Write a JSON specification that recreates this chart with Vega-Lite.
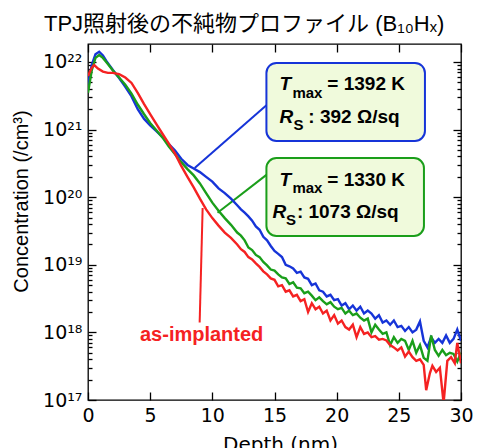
{
  "$schema": "https://vega.github.io/schema/vega-lite/v6.json",
  "width": 373,
  "height": 356,
  "autosize": {"type": "none"},
  "padding": {"left": 88, "top": 44, "right": 16, "bottom": 48},
  "background": "white",
  "title": {"text": "TPJ照射後の不純物プロファイル (B₁₀Hₓ)", "font": "Liberation Sans, Noto Sans CJK JP", "fontSize": 22, "fontWeight": "normal", "color": "black", "anchor": "start", "frame": "group", "dx": -44, "offset": 7},
  "config": {
    "view": {"stroke": "black", "strokeWidth": 1.3},
    "axis": {"domain": false, "grid": false, "tickColor": "black", "tickWidth": 1.3, "labelColor": "black", "titleColor": "black", "labelFont": "DejaVu Sans", "titleFont": "Liberation Sans", "labelFontSize": 19, "titleFontSize": 20, "titleFontWeight": "normal", "labelOverlap": false, "labelFlush": false}
  },
  "datasets": {
    "curves": [
      {"series":"1392 K","depth":0,"conc":4.6e21},{"series":"1392 K","depth":0.3,"conc":9.0e21},{"series":"1392 K","depth":0.6,"conc":1.3e22},{"series":"1392 K","depth":0.9,"conc":1.42e22},{"series":"1392 K","depth":1.2,"conc":1.25e22},{"series":"1392 K","depth":1.5,"conc":1.02e22},{"series":"1392 K","depth":2.0,"conc":7.6e21},{"series":"1392 K","depth":2.5,"conc":5.8e21},{"series":"1392 K","depth":3.0,"conc":4.3e21},{"series":"1392 K","depth":3.5,"conc":3.1e21},{"series":"1392 K","depth":4.0,"conc":2.0e21},{"series":"1392 K","depth":4.5,"conc":1.45e21},{"series":"1392 K","depth":5.0,"conc":1.15e21},{"series":"1392 K","depth":5.5,"conc":9.5e20},{"series":"1392 K","depth":6.0,"conc":7.7e20},{"series":"1392 K","depth":6.5,"conc":6.1e20},{"series":"1392 K","depth":7.0,"conc":4.9e20},{"series":"1392 K","depth":7.5,"conc":3.7e20},{"series":"1392 K","depth":8.0,"conc":3.0e20},{"series":"1392 K","depth":8.5,"conc":2.65e20},{"series":"1392 K","depth":9.0,"conc":2.35e20},{"series":"1392 K","depth":9.5,"conc":2.0e20},{"series":"1392 K","depth":10.0,"conc":1.7e20},{"series":"1392 K","depth":10.5,"conc":1.35e20},{"series":"1392 K","depth":11.0,"conc":1.15e20},{"series":"1392 K","depth":11.5,"conc":9.5e19},
      {"series":"1392 K","depth":12.0,"conc":7.6e19},{"series":"1392 K","depth":12.3,"conc":6.6e19},{"series":"1392 K","depth":12.6,"conc":5.9e19},{"series":"1392 K","depth":12.9,"conc":5.2e19},{"series":"1392 K","depth":13.2,"conc":4.5e19},{"series":"1392 K","depth":13.5,"conc":3.7e19},{"series":"1392 K","depth":13.8,"conc":3.3e19},{"series":"1392 K","depth":14.1,"conc":2.6e19},{"series":"1392 K","depth":14.4,"conc":2.3e19},{"series":"1392 K","depth":14.7,"conc":1.9e19},{"series":"1392 K","depth":15.0,"conc":1.6e19},{"series":"1392 K","depth":15.3,"conc":1.45e19},{"series":"1392 K","depth":15.6,"conc":1.3e19},{"series":"1392 K","depth":15.9,"conc":1.0e19},{"series":"1392 K","depth":16.2,"conc":9.5e18},{"series":"1392 K","depth":16.5,"conc":8.8e18},{"series":"1392 K","depth":16.8,"conc":7.6e18},{"series":"1392 K","depth":17.1,"conc":7.9e18},{"series":"1392 K","depth":17.4,"conc":6.5e18},{"series":"1392 K","depth":17.7,"conc":6.2e18},{"series":"1392 K","depth":18.0,"conc":5.0e18},{"series":"1392 K","depth":18.3,"conc":5.3e18},{"series":"1392 K","depth":18.6,"conc":4.2e18},{"series":"1392 K","depth":18.9,"conc":4.0e18},{"series":"1392 K","depth":19.2,"conc":3.4e18},{"series":"1392 K","depth":19.5,"conc":3.6e18},{"series":"1392 K","depth":19.8,"conc":3.0e18},{"series":"1392 K","depth":20.1,"conc":3.1e18},{"series":"1392 K","depth":20.4,"conc":2.5e18},{"series":"1392 K","depth":20.7,"conc":2.7e18},{"series":"1392 K","depth":21.0,"conc":2.2e18},{"series":"1392 K","depth":21.3,"conc":2.5e18},{"series":"1392 K","depth":21.6,"conc":2.1e18},{"series":"1392 K","depth":21.9,"conc":2.4e18},{"series":"1392 K","depth":22.2,"conc":1.9e18},{"series":"1392 K","depth":22.5,"conc":2.1e18},{"series":"1392 K","depth":22.8,"conc":1.9e18},{"series":"1392 K","depth":23.1,"conc":1.6e18},{"series":"1392 K","depth":23.4,"conc":1.8e18},{"series":"1392 K","depth":23.7,"conc":1.4e18},{"series":"1392 K","depth":24.0,"conc":1.5e18},{"series":"1392 K","depth":24.3,"conc":1.3e18},{"series":"1392 K","depth":24.6,"conc":1.5e18},{"series":"1392 K","depth":24.9,"conc":1.2e18},{"series":"1392 K","depth":25.2,"conc":1.25e18},{"series":"1392 K","depth":25.5,"conc":1.05e18},{"series":"1392 K","depth":25.8,"conc":1.2e18},{"series":"1392 K","depth":26.1,"conc":1.0e18},{"series":"1392 K","depth":26.4,"conc":1.1e18},{"series":"1392 K","depth":26.7,"conc":1.45e18},{"series":"1392 K","depth":27.0,"conc":7.5e17},{"series":"1392 K","depth":27.3,"conc":6.0e17},{"series":"1392 K","depth":27.6,"conc":8.5e17},{"series":"1392 K","depth":27.9,"conc":7.0e17},{"series":"1392 K","depth":28.2,"conc":8.0e17},{"series":"1392 K","depth":28.5,"conc":7.0e17},{"series":"1392 K","depth":28.8,"conc":9.0e17},{"series":"1392 K","depth":29.1,"conc":7.0e17},{"series":"1392 K","depth":29.4,"conc":8.0e17},{"series":"1392 K","depth":29.7,"conc":1.1e18},{"series":"1392 K","depth":30.0,"conc":7.5e17},
      {"series":"1330 K","depth":0,"conc":3.5e21},{"series":"1330 K","depth":0.3,"conc":7.5e21},{"series":"1330 K","depth":0.6,"conc":1.15e22},{"series":"1330 K","depth":0.9,"conc":1.27e22},{"series":"1330 K","depth":1.2,"conc":1.15e22},{"series":"1330 K","depth":1.5,"conc":9.8e21},{"series":"1330 K","depth":2.0,"conc":7.5e21},{"series":"1330 K","depth":2.5,"conc":5.9e21},{"series":"1330 K","depth":3.0,"conc":4.6e21},{"series":"1330 K","depth":3.5,"conc":3.4e21},{"series":"1330 K","depth":4.0,"conc":2.35e21},{"series":"1330 K","depth":4.5,"conc":1.7e21},{"series":"1330 K","depth":5.0,"conc":1.25e21},{"series":"1330 K","depth":5.5,"conc":9.8e20},{"series":"1330 K","depth":6.0,"conc":7.6e20},{"series":"1330 K","depth":6.5,"conc":5.6e20},{"series":"1330 K","depth":7.0,"conc":4.3e20},{"series":"1330 K","depth":7.5,"conc":3.3e20},{"series":"1330 K","depth":8.0,"conc":2.6e20},{"series":"1330 K","depth":8.5,"conc":2.1e20},{"series":"1330 K","depth":9.0,"conc":1.6e20},{"series":"1330 K","depth":9.5,"conc":1.15e20},{"series":"1330 K","depth":10.0,"conc":8.3e19},{"series":"1330 K","depth":10.5,"conc":6.3e19},{"series":"1330 K","depth":11.0,"conc":4.9e19},{"series":"1330 K","depth":11.5,"conc":3.9e19},
      {"series":"1330 K","depth":12.0,"conc":3.0e19},{"series":"1330 K","depth":12.3,"conc":2.7e19},{"series":"1330 K","depth":12.6,"conc":2.3e19},{"series":"1330 K","depth":12.9,"conc":1.8e19},{"series":"1330 K","depth":13.2,"conc":1.65e19},{"series":"1330 K","depth":13.5,"conc":1.4e19},{"series":"1330 K","depth":13.8,"conc":1.3e19},{"series":"1330 K","depth":14.1,"conc":1.1e19},{"series":"1330 K","depth":14.4,"conc":9.8e18},{"series":"1330 K","depth":14.7,"conc":8.5e18},{"series":"1330 K","depth":15.0,"conc":8.2e18},{"series":"1330 K","depth":15.3,"conc":7.2e18},{"series":"1330 K","depth":15.6,"conc":6.5e18},{"series":"1330 K","depth":15.9,"conc":6.3e18},{"series":"1330 K","depth":16.2,"conc":5.2e18},{"series":"1330 K","depth":16.5,"conc":5.5e18},{"series":"1330 K","depth":16.8,"conc":4.6e18},{"series":"1330 K","depth":17.1,"conc":4.5e18},{"series":"1330 K","depth":17.4,"conc":3.8e18},{"series":"1330 K","depth":17.7,"conc":4.0e18},{"series":"1330 K","depth":18.0,"conc":3.5e18},{"series":"1330 K","depth":18.3,"conc":3.0e18},{"series":"1330 K","depth":18.6,"conc":3.3e18},{"series":"1330 K","depth":18.9,"conc":2.9e18},{"series":"1330 K","depth":19.2,"conc":2.6e18},{"series":"1330 K","depth":19.5,"conc":2.8e18},{"series":"1330 K","depth":19.8,"conc":2.4e18},{"series":"1330 K","depth":20.1,"conc":2.2e18},{"series":"1330 K","depth":20.4,"conc":2.3e18},{"series":"1330 K","depth":20.7,"conc":1.9e18},{"series":"1330 K","depth":21.0,"conc":2.1e18},{"series":"1330 K","depth":21.3,"conc":1.8e18},{"series":"1330 K","depth":21.6,"conc":1.9e18},{"series":"1330 K","depth":21.9,"conc":1.65e18},{"series":"1330 K","depth":22.2,"conc":1.5e18},{"series":"1330 K","depth":22.5,"conc":1.6e18},{"series":"1330 K","depth":22.8,"conc":1.0e18},{"series":"1330 K","depth":23.1,"conc":1.3e18},{"series":"1330 K","depth":23.4,"conc":1.1e18},{"series":"1330 K","depth":23.7,"conc":9.5e17},{"series":"1330 K","depth":24.0,"conc":1.0e18},{"series":"1330 K","depth":24.3,"conc":6.5e17},{"series":"1330 K","depth":24.6,"conc":8.5e17},{"series":"1330 K","depth":24.9,"conc":7.0e17},{"series":"1330 K","depth":25.2,"conc":8.0e17},{"series":"1330 K","depth":25.5,"conc":7.5e17},{"series":"1330 K","depth":25.8,"conc":5.5e17},{"series":"1330 K","depth":26.1,"conc":7.5e17},{"series":"1330 K","depth":26.4,"conc":5.0e17},{"series":"1330 K","depth":26.7,"conc":6.5e17},{"series":"1330 K","depth":27.0,"conc":4.2e17},{"series":"1330 K","depth":27.3,"conc":3.8e17},{"series":"1330 K","depth":27.6,"conc":9.0e17},{"series":"1330 K","depth":27.9,"conc":5.5e17},{"series":"1330 K","depth":28.2,"conc":4.5e17},{"series":"1330 K","depth":28.5,"conc":5.5e17},{"series":"1330 K","depth":28.8,"conc":4.6e17},{"series":"1330 K","depth":29.1,"conc":5.0e17},{"series":"1330 K","depth":29.4,"conc":4.8e17},{"series":"1330 K","depth":29.7,"conc":3.7e17},{"series":"1330 K","depth":30.0,"conc":5.0e17},
      {"series":"as-implanted","depth":0,"conc":6.2e21},{"series":"as-implanted","depth":0.3,"conc":8.2e21},{"series":"as-implanted","depth":0.5,"conc":9.0e21},{"series":"as-implanted","depth":0.8,"conc":8.0e21},{"series":"as-implanted","depth":1.2,"conc":7.2e21},{"series":"as-implanted","depth":1.6,"conc":6.9e21},{"series":"as-implanted","depth":2.0,"conc":6.9e21},{"series":"as-implanted","depth":2.5,"conc":6.6e21},{"series":"as-implanted","depth":3.0,"conc":5.9e21},{"series":"as-implanted","depth":3.5,"conc":4.9e21},{"series":"as-implanted","depth":4.0,"conc":3.5e21},{"series":"as-implanted","depth":4.5,"conc":2.4e21},{"series":"as-implanted","depth":5.0,"conc":1.7e21},{"series":"as-implanted","depth":5.5,"conc":1.2e21},{"series":"as-implanted","depth":6.0,"conc":8.6e20},{"series":"as-implanted","depth":6.5,"conc":6.2e20},{"series":"as-implanted","depth":7.0,"conc":4.4e20},{"series":"as-implanted","depth":7.5,"conc":2.9e20},{"series":"as-implanted","depth":8.0,"conc":2.0e20},{"series":"as-implanted","depth":8.5,"conc":1.4e20},{"series":"as-implanted","depth":9.0,"conc":9.5e19},{"series":"as-implanted","depth":9.5,"conc":6.6e19},{"series":"as-implanted","depth":10.0,"conc":4.9e19},{"series":"as-implanted","depth":10.5,"conc":3.8e19},{"series":"as-implanted","depth":11.0,"conc":3.0e19},{"series":"as-implanted","depth":11.5,"conc":2.5e19},
      {"series":"as-implanted","depth":12.0,"conc":2.0e19},{"series":"as-implanted","depth":12.3,"conc":1.7e19},{"series":"as-implanted","depth":12.6,"conc":1.55e19},{"series":"as-implanted","depth":12.9,"conc":1.3e19},{"series":"as-implanted","depth":13.2,"conc":1.2e19},{"series":"as-implanted","depth":13.5,"conc":1.05e19},{"series":"as-implanted","depth":13.8,"conc":9.3e18},{"series":"as-implanted","depth":14.1,"conc":8.0e18},{"series":"as-implanted","depth":14.4,"conc":7.2e18},{"series":"as-implanted","depth":14.7,"conc":6.3e18},{"series":"as-implanted","depth":15.0,"conc":6.0e18},{"series":"as-implanted","depth":15.3,"conc":4.8e18},{"series":"as-implanted","depth":15.6,"conc":5.0e18},{"series":"as-implanted","depth":15.9,"conc":4.0e18},{"series":"as-implanted","depth":16.2,"conc":4.2e18},{"series":"as-implanted","depth":16.5,"conc":3.4e18},{"series":"as-implanted","depth":16.8,"conc":3.6e18},{"series":"as-implanted","depth":17.1,"conc":2.9e18},{"series":"as-implanted","depth":17.4,"conc":3.1e18},{"series":"as-implanted","depth":17.7,"conc":2.0e18},{"series":"as-implanted","depth":18.0,"conc":2.7e18},{"series":"as-implanted","depth":18.3,"conc":2.2e18},{"series":"as-implanted","depth":18.6,"conc":2.4e18},{"series":"as-implanted","depth":18.9,"conc":1.9e18},{"series":"as-implanted","depth":19.2,"conc":2.1e18},{"series":"as-implanted","depth":19.5,"conc":1.5e18},{"series":"as-implanted","depth":19.8,"conc":1.8e18},{"series":"as-implanted","depth":20.1,"conc":1.35e18},{"series":"as-implanted","depth":20.4,"conc":1.5e18},{"series":"as-implanted","depth":20.7,"conc":1.2e18},{"series":"as-implanted","depth":21.0,"conc":1.1e18},{"series":"as-implanted","depth":21.3,"conc":1.3e18},{"series":"as-implanted","depth":21.6,"conc":8.5e17},{"series":"as-implanted","depth":21.9,"conc":1.2e18},{"series":"as-implanted","depth":22.2,"conc":9.5e17},{"series":"as-implanted","depth":22.5,"conc":1.0e18},{"series":"as-implanted","depth":22.8,"conc":8.5e17},{"series":"as-implanted","depth":23.1,"conc":8.8e17},{"series":"as-implanted","depth":23.4,"conc":7.8e17},{"series":"as-implanted","depth":23.7,"conc":8.0e17},{"series":"as-implanted","depth":24.0,"conc":7.6e17},{"series":"as-implanted","depth":24.3,"conc":6.5e17},{"series":"as-implanted","depth":24.6,"conc":6.0e17},{"series":"as-implanted","depth":24.9,"conc":5.4e17},{"series":"as-implanted","depth":25.2,"conc":6.0e17},{"series":"as-implanted","depth":25.5,"conc":4.4e17},{"series":"as-implanted","depth":25.8,"conc":5.2e17},{"series":"as-implanted","depth":26.1,"conc":4.3e17},{"series":"as-implanted","depth":26.4,"conc":3.8e17},{"series":"as-implanted","depth":26.7,"conc":4.0e17},{"series":"as-implanted","depth":27.0,"conc":3.3e17},{"series":"as-implanted","depth":27.2,"conc":1.4e17},{"series":"as-implanted","depth":27.5,"conc":2.5e17},{"series":"as-implanted","depth":27.7,"conc":3.2e17},{"series":"as-implanted","depth":28.0,"conc":2.6e17},{"series":"as-implanted","depth":28.3,"conc":3.0e17},{"series":"as-implanted","depth":28.6,"conc":9.0e16},{"series":"as-implanted","depth":28.9,"conc":3.8e17},{"series":"as-implanted","depth":29.2,"conc":4.3e17},{"series":"as-implanted","depth":29.5,"conc":3.5e17},{"series":"as-implanted","depth":29.7,"conc":7.0e17},{"series":"as-implanted","depth":30.0,"conc":3.5e17}
    ],
    "boxes": [
      {"series":"1392 K","depth":14.35,"depth2":27.1,"conc":9.67e21,"conc2":6.78e20},
      {"series":"1330 K","depth":14.35,"depth2":27.02,"conc":3.8e20,"conc2":2.67e19}
    ],
    "conn": [
      {"series":"1392 K","depth":8.58,"conc":2.7e20,"depth2":14.35,"conc2":2.3e21},
      {"series":"1330 K","depth":10.42,"conc":5.9e19,"depth2":14.35,"conc2":2.14e20},
      {"series":"as-implanted","depth":9.22,"conc":6.9e19,"depth2":8.98,"conc2":1.4e18}
    ],
    "txt": [
      {"depth":15.4,"conc":3.85e21,"text":"T","style":"it"},
      {"depth":16.44,"conc":2.93e21,"text":"max","style":"sub"},
      {"depth":19.25,"conc":3.85e21,"text":"= 1392 K","style":"reg"},
      {"depth":15.4,"conc":1.25e21,"text":"R","style":"it"},
      {"depth":16.52,"conc":9.87e20,"text":"S","style":"sub"},
      {"depth":17.72,"conc":1.25e21,"text":": 392 Ω/sq","style":"reg"},
      {"depth":15.4,"conc":1.47e20,"text":"T","style":"it"},
      {"depth":16.44,"conc":1.15e20,"text":"max","style":"sub"},
      {"depth":19.25,"conc":1.47e20,"text":"= 1330 K","style":"reg"},
      {"depth":14.84,"conc":4.92e19,"text":"R","style":"it"},
      {"depth":15.92,"conc":3.88e19,"text":"S","style":"sub"},
      {"depth":16.8,"conc":4.92e19,"text":": 1073 Ω/sq","style":"reg"}
    ],
    "note": [
      {"depth":9.14,"conc":9.2e17,"text":"as-implanted"}
    ]
  },
  "layer": [
    {
      "layer": [
        {
          "data": {"name": "boxes"},
          "mark": {"type": "rect", "fill": "#f0fadc", "strokeWidth": 2, "cornerRadius": 10},
          "encoding": {
            "x": {"field": "depth", "type": "quantitative"},
            "x2": {"field": "depth2"},
            "y": {"field": "conc", "type": "quantitative"},
            "y2": {"field": "conc2"},
            "stroke": {"field": "series", "type": "nominal", "legend": null, "scale": {"domain": ["1392 K", "1330 K", "as-implanted"], "range": ["#1634d8", "#1a9e1a", "#f52222"]}}
          }
        },
        {
          "data": {"name": "conn"},
          "mark": {"type": "rule", "strokeWidth": 2},
          "encoding": {
            "x": {"field": "depth", "type": "quantitative"},
            "x2": {"field": "depth2"},
            "y": {"field": "conc", "type": "quantitative"},
            "y2": {"field": "conc2"},
            "color": {"field": "series", "type": "nominal", "legend": null, "scale": {"domain": ["1392 K", "1330 K", "as-implanted"], "range": ["#1634d8", "#1a9e1a", "#f52222"]}}
          }
        },
        {
          "data": {"name": "curves"},
          "mark": {"type": "line", "strokeWidth": 2.4, "clip": true},
          "encoding": {
            "x": {"field": "depth", "type": "quantitative", "scale": {"domain": [0, 30], "nice": false, "zero": false},
              "axis": {"values": [0, 5, 10, 15, 20, 25, 30], "tickSize": -8, "labelPadding": 14, "title": "Depth (nm)", "titleFont": "DejaVu Sans", "titlePadding": 9, "titleX": 192, "format": "d"}},
            "y": {"field": "conc", "type": "quantitative", "scale": {"type": "log", "domain": [1e17, 1.845e22], "nice": false},
              "axis": {"values": [1e17,2e17,3e17,4e17,5e17,6e17,7e17,8e17,9e17,1e18,2e18,3e18,4e18,5e18,6e18,7e18,8e18,9e18,1e19,2e19,3e19,4e19,5e19,6e19,7e19,8e19,9e19,1e20,2e20,3e20,4e20,5e20,6e20,7e20,8e20,9e20,1e21,2e21,3e21,4e21,5e21,6e21,7e21,8e21,9e21,1e22],
                "labelExpr": "abs(log(datum.value)/LN10 - round(log(datum.value)/LN10)) < 1e-6 ? '10' + ['¹⁷','¹⁸','¹⁹','²⁰','²¹','²²'][round(log(datum.value)/LN10) - 17] : ''",
                "tickSize": {"condition": {"test": "abs(log(datum.value)/LN10 - round(log(datum.value)/LN10)) < 1e-6", "value": -8}, "value": -4},
                "labelPadding": 14, "title": "Concentration (/cm³)", "titleX": -67, "titleY": 157, "titleBaseline": "middle", "titleAngle": 270}},
            "color": {"field": "series", "type": "nominal", "legend": null, "scale": {"domain": ["1392 K", "1330 K", "as-implanted"], "range": ["#1634d8", "#1a9e1a", "#f52222"]}}
          }
        },
        {
          "data": {"name": "txt"},
          "transform": [{"filter": "datum.style == 'it'"}],
          "mark": {"type": "text", "align": "left", "baseline": "alphabetic", "font": "Liberation Sans", "fontSize": 19, "fontWeight": "bold", "fontStyle": "italic", "color": "black"},
          "encoding": {"x": {"field": "depth", "type": "quantitative"}, "y": {"field": "conc", "type": "quantitative"}, "text": {"field": "text"}}
        },
        {
          "data": {"name": "txt"},
          "transform": [{"filter": "datum.style == 'sub'"}],
          "mark": {"type": "text", "align": "left", "baseline": "alphabetic", "font": "Liberation Sans", "fontSize": 15, "fontWeight": "bold", "color": "black"},
          "encoding": {"x": {"field": "depth", "type": "quantitative"}, "y": {"field": "conc", "type": "quantitative"}, "text": {"field": "text"}}
        },
        {
          "data": {"name": "txt"},
          "transform": [{"filter": "datum.style == 'reg'"}],
          "mark": {"type": "text", "align": "left", "baseline": "alphabetic", "font": "Liberation Sans", "fontSize": 19, "fontWeight": "bold", "color": "black"},
          "encoding": {"x": {"field": "depth", "type": "quantitative"}, "y": {"field": "conc", "type": "quantitative"}, "text": {"field": "text"}}
        },
        {
          "data": {"name": "note"},
          "mark": {"type": "text", "align": "center", "baseline": "middle", "font": "Liberation Sans", "fontSize": 20, "fontWeight": "bold", "color": "#f52222"},
          "encoding": {"x": {"field": "depth", "type": "quantitative"}, "y": {"field": "conc", "type": "quantitative"}, "text": {"field": "text"}}
        }
      ]
    },
    {
      "data": {"name": "boxes"},
      "mark": {"type": "point", "opacity": 0},
      "encoding": {
        "x": {"field": "depth", "type": "quantitative", "axis": {"orient": "top", "values": [0, 5, 10, 15, 20, 25, 30], "tickSize": -8, "labels": false, "title": null}},
        "y": {"field": "conc", "type": "quantitative", "axis": {"orient": "right", "values": [1e17,2e17,3e17,4e17,5e17,6e17,7e17,8e17,9e17,1e18,2e18,3e18,4e18,5e18,6e18,7e18,8e18,9e18,1e19,2e19,3e19,4e19,5e19,6e19,7e19,8e19,9e19,1e20,2e20,3e20,4e20,5e20,6e20,7e20,8e20,9e20,1e21,2e21,3e21,4e21,5e21,6e21,7e21,8e21,9e21,1e22],
          "tickSize": {"condition": {"test": "abs(log(datum.value)/LN10 - round(log(datum.value)/LN10)) < 1e-6", "value": -8}, "value": -4}, "labels": false, "title": null}}
      }
    }
  ],
  "resolve": {"axis": {"x": "independent", "y": "independent"}}
}
